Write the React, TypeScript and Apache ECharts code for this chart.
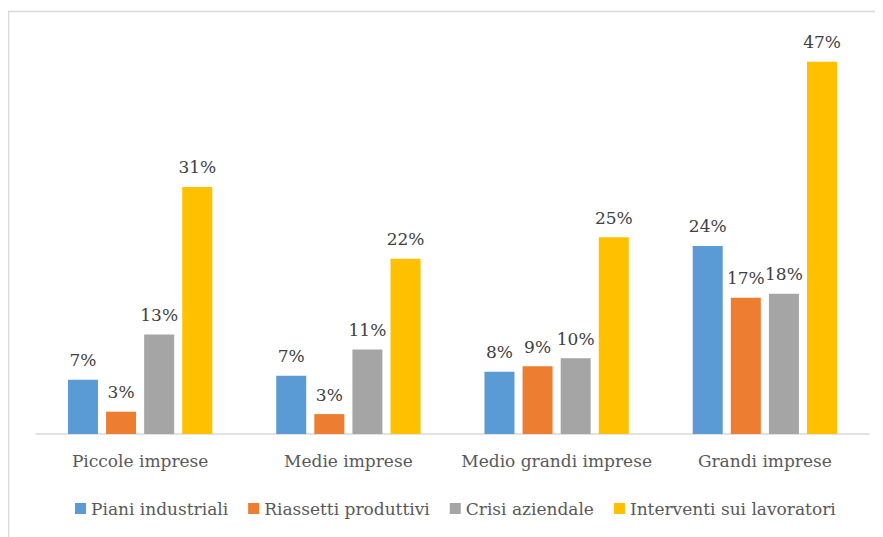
import React, { useEffect, useRef } from "react";
import * as echarts from "echarts";

const categories = ["Piccole imprese", "Medie imprese", "Medio grandi imprese", "Grandi imprese"];
const seriesNames = ["Piani industriali", "Riassetti produttivi", "Crisi aziendale", "Interventi sui lavoratori"];
const pianiIndustriali = [6.8, 7.3, 7.8, 23.6];
const riassettiProduttivi = [2.8, 2.5, 8.5, 17.1];
const crisiAziendale = [12.5, 10.6, 9.5, 17.6];
const interventiLavoratori = [31.0, 22.0, 24.7, 46.7];
const colors = ["#5B9BD5", "#ED7D31", "#A5A5A5", "#FFC000"];

const FONT = "DejaVu Serif";

export default function App() {
  const ref = useRef<HTMLDivElement>(null);
  useEffect(() => {
    if (!ref.current) return;
    const chart = echarts.init(ref.current, undefined, { renderer: "svg" });
    const data = [pianiIndustriali, riassettiProduttivi, crisiAziendale, interventiLavoratori];
    chart.setOption({
      animation: false,
      color: colors,
      textStyle: { fontFamily: FONT },
      graphic: [
        {
          type: "rect",
          shape: { x: 0.5, y: 3.5, width: 1000, height: 1000 },
          style: { fill: "none", stroke: "#D9D9D9", lineWidth: 1.5 },
          silent: true,
          z: -10,
        },
      ],
      grid: { left: 28, right: 14, top: 27.5, height: 398.5, containLabel: false },
      legend: {
        bottom: 15,
        left: 62,
        icon: "rect",
        itemWidth: 11,
        itemHeight: 11,
        itemGap: 20,
        textStyle: { fontFamily: FONT, fontSize: 17, color: "#595959" },
        data: seriesNames,
      },
      xAxis: {
        type: "category",
        data: categories,
        axisLine: { lineStyle: { color: "#D9D9D9", width: 1.5 } },
        axisTick: { show: false },
        axisLabel: { interval: 0, fontFamily: FONT, fontSize: 17, color: "#595959", margin: 18 },
      },
      yAxis: {
        type: "value",
        min: 0,
        max: 50,
        show: false,
        splitLine: { show: false },
      },
      series: seriesNames.map((name, i) => ({
        name,
        type: "bar",
        data: data[i],
        barWidth: 30,
        barGap: "27%",
        label: {
          show: true,
          position: "top",
          distance: 11,
          fontFamily: FONT,
          fontSize: 17,
          color: "#404040",
          formatter: (p: any) => Math.round(p.value) + "%",
        },
      })),
    });
    return () => chart.dispose();
  }, []);
  return <div ref={ref} style={{ width: 875, height: 529 }} />;
}
